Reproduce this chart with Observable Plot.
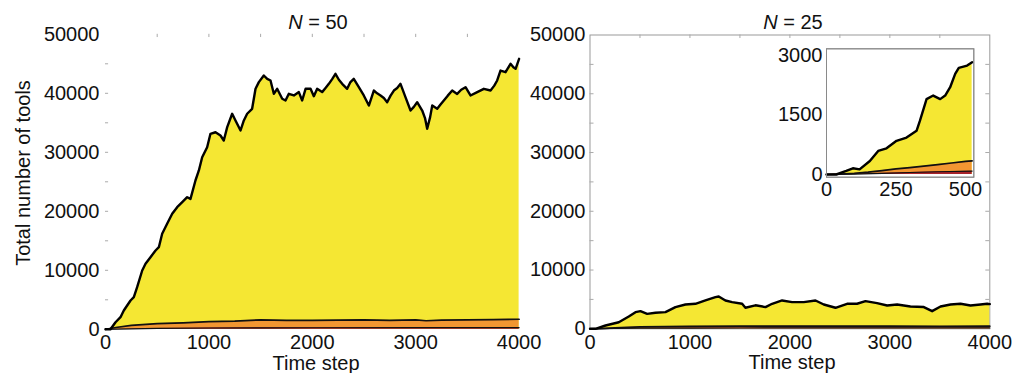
<!DOCTYPE html>
<html><head><meta charset="utf-8">
<script src="https://cdn.jsdelivr.net/npm/d3@7"></script>
<script src="https://cdn.jsdelivr.net/npm/@observablehq/plot@0.6"></script>
<style>
body{margin:0;background:#fff;}
#wrap{position:relative;width:1013px;height:373px;overflow:hidden;font-family:"Liberation Sans",Arial,Helvetica,sans-serif;color:#111;background:#fff;}
.box{position:absolute;}
.lbl{position:absolute;font-size:20px;line-height:0.8;white-space:nowrap;text-align:center;width:240px;}
</style></head><body><div id="wrap"></div>
<script>
// ---------- data: N = 50 ----------
const n50TotalT = [0,48,97,145,177,242,274,306,355,387,435,484,516,548,596,645,693,742,790,822,870,903,935,983,1015,1064,1112,1144,1177,1225,1257,1306,1338,1370,1418,1451,1483,1531,1564,1596,1628,1660,1709,1741,1773,1822,1870,1902,1935,1983,2015,2047,2095,2128,2160,2192,2224,2257,2289,2337,2369,2401,2450,2498,2547,2595,2627,2660,2692,2724,2757,2789,2821,2853,2901,2950,2982,3014,3063,3090,3111,3140,3160,3208,3240,3272,3310,3353,3401,3440,3482,3530,3595,3659,3724,3760,3788,3820,3869,3917,3945,3966,4000];
const n50Total  = [0,0,1200,2050,3190,4880,5440,7140,9970,11100,12220,13360,13920,16190,17880,19580,20700,21540,22390,22100,25220,26920,29170,30870,33130,33400,32850,32000,34260,36530,35400,33700,35400,36530,37370,40760,41890,43020,42450,42170,39920,40760,39070,38780,39920,39640,40200,38780,40760,40760,39500,40760,40200,40900,41600,42400,43300,42300,41600,40760,41900,42450,41030,39630,37930,40470,40000,39630,39200,38490,39600,40470,40900,41600,39340,37080,37700,38490,37080,35800,33980,36000,37930,37370,38100,38780,39600,40470,39900,40600,41030,39630,40200,40760,40470,41300,42170,43860,43580,45000,44400,44150,45850];
const n50MidT = [0,100,250,500,750,1000,1250,1500,1750,2000,2250,2500,2750,3000,3100,3250,3500,3750,4000];
const n50Mid  = [0,300,650,950,1100,1300,1400,1600,1500,1500,1550,1600,1500,1600,1450,1550,1600,1650,1700];
const n50LowT = [0,250,500,1000,1500,2000,3000,4000];
const n50Low  = [0,80,150,220,250,260,270,280];

// ---------- data: N = 25 ----------
const n25TotalT = [0,55,155,288,388,455,505,572,655,755,855,955,1055,1155,1255,1288,1355,1422,1522,1555,1655,1756,1822,1922,2022,2139,2256,2339,2456,2572,2672,2756,2872,2973,3073,3206,3340,3423,3507,3607,3707,3807,3907,3974,4000];
const n25Total  = [0,0,560,1120,2100,2830,3000,2550,2730,2830,3680,4140,4260,4820,5380,5500,4820,4540,4260,3580,4000,3700,4260,4820,4540,4540,4820,4140,3580,4260,4260,4700,4370,3970,4140,3800,3700,3000,3800,4140,4260,3970,4140,4260,4200];
const n25MidT = [0,100,250,500,1000,1500,2000,2500,3000,3500,4000];
const n25Mid  = [0,40,150,330,420,450,460,450,440,430,450];
const n25LowT = [0,100,250,500,1000,1500,2000,2500,3000,3500,4000];
const n25Low  = [0,20,60,100,130,140,150,150,150,150,150];

// ---------- data: inset (N = 25, first 500 steps) ----------
const insTotalT = [0,35,71,95,119,156,186,216,252,288,324,336,360,384,409,427,445,463,476,506,524];
const insTotal  = [0,0,90,157,130,340,595,660,850,930,1100,1350,1900,1990,1900,1990,2200,2535,2690,2745,2830];
const insMidT = [0,50,100,150,200,250,300,350,400,450,500,524];
const insMid  = [0,10,30,60,100,140,175,210,250,290,330,345];
const insLowT = [0,100,200,300,400,524];
const insLow  = [0,10,30,50,70,85];

// ---------- ticks ----------
const mainXTicks = [0,1000,2000,3000,4000];
const mainYTicks = [0,10000,20000,30000,40000,50000];
const minorXTicks = [500,1000,1500,2000,2500,3000,3500];
const minorYTicks = [5000,10000,15000,20000,25000,30000,35000,40000,45000];
const insXTicks = [0,250,500];
const insYTicks = [0,1500,3000];

const YELLOW = "#f5e733", ORANGE = "#f29632", RED = "#a8232b";
const FONT = '"Liberation Sans", Arial, Helvetica, sans-serif';
const FS = 20;
const rows = (ts, vs) => ts.map((t, i) => ({t, v: vs[i]}));

function layers(tT, tV, mT, mV, lT, lV) {
  const a = rows(tT, tV), b = rows(mT, mV), c = rows(lT, lV);
  return [
    Plot.areaY(a, {x: "t", y: "v", fill: YELLOW}),
    Plot.areaY(b, {x: "t", y: "v", fill: ORANGE}),
    Plot.areaY(c, {x: "t", y: "v", fill: RED}),
    Plot.lineY(c, {x: "t", y: "v", stroke: "#111", strokeWidth: 1.2}),
    Plot.lineY(b, {x: "t", y: "v", stroke: "#111", strokeWidth: 1.7}),
    Plot.lineY(a, {x: "t", y: "v", stroke: "#000", strokeWidth: 2.4})
  ];
}
const fmt = d => String(d);
const style = {background: "transparent", fontFamily: FONT, fontSize: FS + "px", color: "#111", maxWidth: "none", overflow: "visible"};

// Left panel (N = 50)
const left = Plot.plot({
  width: 545, height: 373,
  marginLeft: 105, marginRight: 26.4, marginTop: 33.8, marginBottom: 44.2,
  x: {domain: [0, 4000]}, y: {domain: [0, 50000]},
  style,
  marks: [
    Plot.ruleY(minorYTicks, {y: d => d, x1: 0, x2: 30, stroke: "#aaa"}),
    Plot.ruleX(minorXTicks, {x: d => d, y1: 50000, y2: 49450, stroke: "#aaa"}),
    ...layers(n50TotalT, n50Total, n50MidT, n50Mid, n50LowT, n50Low),
    Plot.axisX({ticks: mainXTicks, tickSize: 0, tickPadding: 5, tickFormat: fmt, label: null, fontSize: FS}),
    Plot.axisY({ticks: mainYTicks, tickSize: 0, tickPadding: 6, tickFormat: fmt, label: null, fontSize: FS})
  ]
});

// Right panel (N = 25)
const right = Plot.plot({
  width: 488, height: 373,
  marginLeft: 64.5, marginRight: 23.7, marginTop: 34.5, marginBottom: 44.7,
  x: {domain: [0, 4000]}, y: {domain: [0, 50000]},
  style,
  marks: [
    Plot.frame({stroke: "#9a9a9a"}),
    Plot.ruleY(minorYTicks, {y: d => d, x1: 0, x2: 40, stroke: "#aaa"}),
    Plot.ruleY(minorYTicks, {y: d => d, x1: 4000, x2: 3960, stroke: "#aaa"}),
    Plot.ruleX(minorXTicks, {x: d => d, y1: 50000, y2: 49400, stroke: "#aaa"}),
    ...layers(n25TotalT, n25Total, n25MidT, n25Mid, n25LowT, n25Low),
    Plot.axisX({ticks: mainXTicks, tickSize: 0, tickPadding: 5.5, tickFormat: fmt, label: null, fontSize: FS}),
    Plot.axisY({ticks: mainYTicks, tickSize: 0, tickPadding: 4.5, tickFormat: fmt, label: null, fontSize: FS})
  ]
});

// Inset
const inset = Plot.plot({
  width: 210, height: 165,
  marginLeft: 46, marginRight: 16.7, marginTop: 8.3, marginBottom: 28.3,
  x: {domain: [0, 530]}, y: {domain: [-68, 3169]},
  style,
  marks: [
    Plot.frame({fill: "white", stroke: "#8a8a8a"}),
    ...layers(insTotalT, insTotal, insMidT, insMid, insLowT, insLow),
    Plot.frame({stroke: "#8a8a8a"}),
    Plot.axisX({ticks: insXTicks, tickSize: 0, tickPadding: 5, tickFormat: fmt, label: null, fontSize: FS}),
    Plot.axisY({ticks: insYTicks, tickSize: 0, tickPadding: 4, tickFormat: fmt, label: null, fontSize: FS})
  ]
});

const wrap = document.getElementById("wrap");
function place(node, l, t, w) {
  const d = document.createElement("div");
  d.className = "box"; d.style.left = l + "px"; d.style.top = t + "px"; d.style.width = w + "px";
  d.appendChild(node); wrap.appendChild(d);
}
place(left, 0, 0, 545);
place(right, 525, 0, 488);
place(inset, 780, 40, 210);

// line-height 0.8 => baseline sits 14.9px below the box top
function label(html, cx, top, rotate) {
  const d = document.createElement("div");
  d.className = "lbl"; d.innerHTML = html;
  d.style.left = (cx - 120) + "px"; d.style.top = top + "px";
  if (rotate) d.style.transform = "rotate(-90deg)";
  wrap.appendChild(d);
}
label("<i>N</i> = 50", 318, 13.5);
label("<i>N</i> = 25", 793, 13.5);
label("Time step", 316, 354.5);
label("Time step", 792, 354);
label("Total number of tools", 23, 173 - 8, true);
</script></body></html>
